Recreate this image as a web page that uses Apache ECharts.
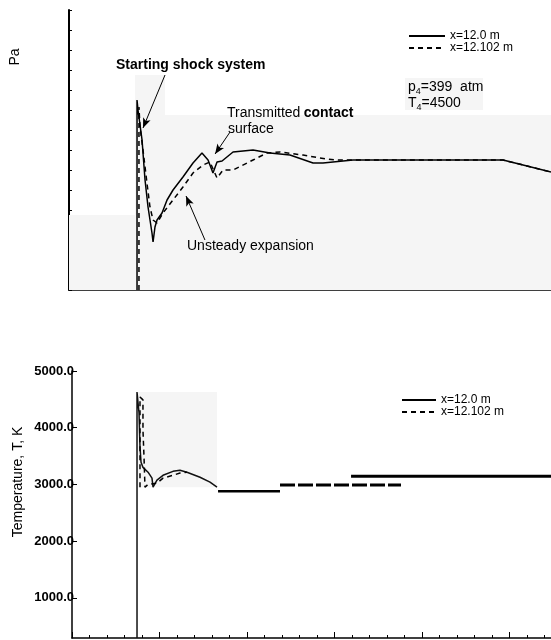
<!DOCTYPE html>
<html><head><meta charset="utf-8">
<script src="https://cdn.jsdelivr.net/npm/echarts@6/dist/echarts.min.js"></script>
<style>html,body{margin:0;padding:0;background:#fff}#c{width:551px;height:640px}</style>
</head><body><div id="c"></div>
<script>
const seriesNames = ['x=12.0 m', 'x=12.102 m'];

// Top panel: pressure (unlabelled units) vs time (ms)
const pTimeSolid = [0.773,0.773,0.784,0.830,0.864,0.898,0.943,0.955,0.977,1.0,1.057,1.114,1.182,1.295,1.409,1.511,1.580,1.636,1.682,1.739,1.864,2.091,2.284,2.511,2.773,2.886,3.227,4.932,5.159,5.477];
const pSolid     = [0,19.0,18.0,15.0,11.0,8.3,5.7,4.8,6.3,7.0,7.7,9.0,10.0,11.3,12.7,13.7,13.0,11.7,12.8,12.9,13.8,14.0,13.7,13.5,12.7,12.7,13.0,13.0,12.5,11.8];
const pTimeDash  = [0.795,0.795,0.807,0.841,0.886,0.920,0.955,1.0,1.068,1.182,1.295,1.409,1.523,1.602,1.682,1.750,1.864,2.091,2.250,2.398,2.659,2.852,3.023,4.932,5.159,5.477];
const pDash      = [0,18.3,16.3,14.0,10.7,8.3,7.0,6.7,7.7,9.0,10.3,11.7,12.5,12.8,11.2,12.0,12.0,13.0,13.7,13.8,13.5,13.2,13.0,13.0,12.5,11.8];

// Bottom panel: temperature (K) vs time (ms)
const tTimeSolid = [0.743,0.743,0.754,0.766,0.777,0.789,0.811,0.869,0.914,0.926,0.971,1.040,1.154,1.234,1.314,1.463,1.577,1.657];
const tSolid     = [290,4630,4610,4260,3660,3390,3300,3215,3110,2950,3075,3160,3230,3250,3215,3125,3040,2950];
const tTimeDash  = [0.777,0.777,0.811,0.811,0.823,0.834,0.869,0.971,1.040,1.154,1.234,1.314];
const tDash      = [2950,4540,4490,3960,3480,2950,3000,3020,3110,3160,3200,3215];
// level segments [tStart, tEnd, T]
const segA = [1.669, 2.377, 2880];
const segB = [2.377, 3.760, 2990];
const segC = [3.189, 5.474, 3145];

const tempTicks = [1000, 2000, 3000, 4000, 5000];

// annotation arrows (data coords, top panel): [from, to]
const arrows = [
  [[1.091, 21.5], [0.841, 16.2]],
  [[1.830, 15.8], [1.660, 13.6]],
  [[1.545, 5.0], [1.330, 9.4]]
];
// shaded regions (data coords)
const topShade = [[0.75, 21.5, 1.091, 17.5], [0.75, 17.5, 5.477, 7.5], [0, 7.5, 5.477, 0]];
const botShade = [[0.754, 4630, 1.657, 2950]];

const zip = (a, b) => a.map((v, i) => [v, b[i]]);
const FONT = "'Liberation Sans', Arial, sans-serif";
const black = '#000';

const chart = echarts.init(document.getElementById('c'), null, {renderer: 'canvas'});

const xAxisBase = (gi, max) => ({
  type: 'value', gridIndex: gi, min: 0, max: max, interval: 1,
  axisLine: {show: true, lineStyle: {color: black, width: 1.5}},
  axisTick: {show: true, inside: true, length: 6, lineStyle: {color: black}},
  minorTick: {show: true, splitNumber: 5, length: 3, lineStyle: {color: black}},
  axisLabel: {show: false},
  splitLine: {show: false}
});

const legendBase = (left, top, w) => ({
  data: seriesNames, orient: 'vertical', left: left, top: top, itemGap: 0, itemWidth: w, itemHeight: 13,
  padding: 0, selectedMode: false, itemStyle: {opacity: 0, borderWidth: 0},
  textStyle: {fontSize: 12, color: black, fontFamily: FONT}
});

const option = {
  animation: false,
  backgroundColor: '#fff',
  textStyle: {fontFamily: FONT},
  grid: [
    {left: 69, right: 0, top: 10, bottom: 350},
    {left: 72, right: 0, top: 371, bottom: 2}
  ],
  xAxis: [xAxisBase(0, 5.477), xAxisBase(1, 5.474)],
  yAxis: [
    {type: 'value', gridIndex: 0, min: 0, max: 28, interval: 2,
     axisLine: {show: true, lineStyle: {color: black, width: 2}},
     axisTick: {show: true, inside: true, length: 3, lineStyle: {color: black}},
     axisLabel: {show: false}, splitLine: {show: false}},
    {type: 'value', gridIndex: 1, min: 290, max: 5000,
     axisLine: {show: true, lineStyle: {color: black, width: 1.5}},
     axisTick: {show: true, inside: true, length: 5, customValues: tempTicks, lineStyle: {color: black}},
     axisLabel: {show: true, customValues: tempTicks, margin: -2, color: black,
       fontFamily: FONT, fontSize: 13, fontWeight: 'bold',
       formatter: v => Number(v).toFixed(1)},
     splitLine: {show: false}}
  ],
  legend: [legendBase(408, 30, 36), legendBase(401, 394, 34)],
  series: [
    {name: seriesNames[0], type: 'line', xAxisIndex: 0, yAxisIndex: 0, data: zip(pTimeSolid, pSolid),
     showSymbol: false, symbol: 'none', lineStyle: {color: black, width: 1.5}, itemStyle: {color: black}, z: 5,
     markArea: {silent: true, itemStyle: {color: '#f5f5f5'},
       data: topShade.map(r => [{xAxis: r[0], yAxis: r[1]}, {xAxis: r[2], yAxis: r[3]}])},
     markLine: {silent: true, symbol: ['none', 'arrow'], symbolSize: [6, 10], label: {show: false},
       lineStyle: {color: black, width: 1, type: 'solid'},
       data: arrows.map(a => [{coord: a[0]}, {coord: a[1]}])}},
    {name: seriesNames[1], type: 'line', xAxisIndex: 0, yAxisIndex: 0, data: zip(pTimeDash, pDash),
     showSymbol: false, symbol: 'none', lineStyle: {color: black, width: 1.5, type: [5, 4]}, itemStyle: {color: black}, z: 5},
    {name: seriesNames[0], type: 'line', xAxisIndex: 1, yAxisIndex: 1, data: zip(tTimeSolid, tSolid),
     showSymbol: false, symbol: 'none', lineStyle: {color: '#111', width: 1.5}, itemStyle: {color: black}, z: 5,
     markArea: {silent: true, itemStyle: {color: '#f5f5f5'},
       data: botShade.map(r => [{xAxis: r[0], yAxis: r[1]}, {xAxis: r[2], yAxis: r[3]}])}},
    {name: seriesNames[1], type: 'line', xAxisIndex: 1, yAxisIndex: 1, data: zip(tTimeDash, tDash),
     showSymbol: false, symbol: 'none', lineStyle: {color: black, width: 1.5, type: [5, 4]}, itemStyle: {color: black}, z: 5},
    {name: 'segA', type: 'line', xAxisIndex: 1, yAxisIndex: 1, data: [[segA[0], segA[2]], [segA[1], segA[2]]],
     showSymbol: false, symbol: 'none', lineStyle: {color: black, width: 2.5}},
    {name: 'segB', type: 'line', xAxisIndex: 1, yAxisIndex: 1, data: [[segB[0], segB[2]], [segB[1], segB[2]]],
     showSymbol: false, symbol: 'none', lineStyle: {color: black, width: 3, type: [15, 3]}},
    {name: 'segC', type: 'line', xAxisIndex: 1, yAxisIndex: 1, data: [[segC[0], segC[2]], [segC[1], segC[2]]],
     showSymbol: false, symbol: 'none', lineStyle: {color: black, width: 3}}
  ],
  graphic: [
    {type: 'rect', shape: {x: 405, y: 78, width: 78, height: 32}, style: {fill: '#f5f5f5'}, z: 1, silent: true},
    {type: 'text', x: 15, y: 57, rotation: Math.PI / 2, silent: true, z: 100,
     style: {text: 'Pa', font: '14px ' + FONT, fill: black, align: 'center', verticalAlign: 'middle'}},
    {type: 'text', x: 18, y: 482, rotation: Math.PI / 2, silent: true, z: 100,
     style: {text: 'Temperature, T, K', font: '14px ' + FONT, fill: black, align: 'center', verticalAlign: 'middle'}},
    {type: 'text', x: 116, y: 65, silent: true, z: 100,
     style: {text: 'Starting shock system', font: 'bold 14px ' + FONT, fill: black, verticalAlign: 'middle'}},
    {type: 'text', x: 227, y: 113, silent: true, z: 100,
     style: {text: '{a|Transmitted} {b|contact}', verticalAlign: 'middle',
       rich: {a: {font: '14px ' + FONT, fill: black}, b: {font: 'bold 14px ' + FONT, fill: black}}}},
    {type: 'text', x: 228, y: 129, silent: true, z: 100,
     style: {text: 'surface', font: '14px ' + FONT, fill: black, verticalAlign: 'middle'}},
    {type: 'text', x: 187, y: 246, silent: true, z: 100,
     style: {text: 'Unsteady expansion', font: '14px ' + FONT, fill: black, verticalAlign: 'middle'}},
    {type: 'text', x: 408, y: 87, silent: true, z: 100,
     style: {text: '{n|p}{s|4}{n|=399  atm}', verticalAlign: 'middle',
       rich: {n: {font: '14px ' + FONT, fill: black, verticalAlign: 'bottom'},
              s: {font: '9px ' + FONT, fill: black, verticalAlign: 'bottom', padding: [0, 0, -2, 0]}}}},
    {type: 'text', x: 408, y: 103, silent: true, z: 100,
     style: {text: '{n|T}{s|4}{n|=4500}', verticalAlign: 'middle',
       rich: {n: {font: '14px ' + FONT, fill: black, verticalAlign: 'bottom'},
              s: {font: '9px ' + FONT, fill: black, verticalAlign: 'bottom', padding: [0, 0, -2, 0]}}}}
  ]
};
chart.setOption(option);
</script>
</body></html>
